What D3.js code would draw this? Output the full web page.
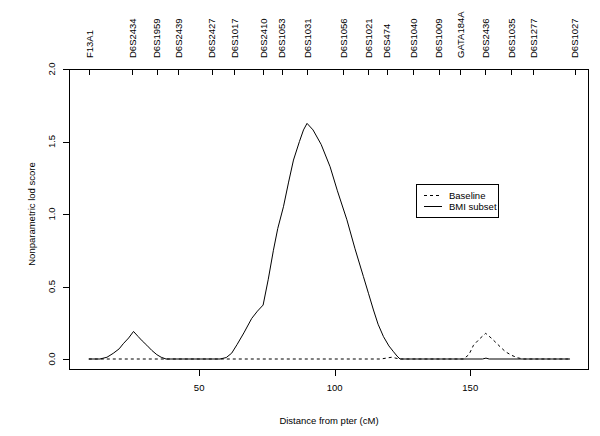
<!DOCTYPE html>
<html><head><meta charset="utf-8">
<script src="https://cdnjs.cloudflare.com/ajax/libs/d3/7.8.5/d3.min.js"></script>
<style>body{margin:0;background:#fff}svg{display:block}text{font-family:"Liberation Sans",Arial,sans-serif;fill:#000}</style>
</head><body><svg id="c" width="600" height="436"></svg>
<script>
const markerNames = ["F13A1","D6S2434","D6S1959","D6S2439","D6S2427","D6S1017","D6S2410","D6S1053","D6S1031","D6S1056","D6S1021","D6S474","D6S1040","D6S1009","GATA184A","D6S2436","D6S1035","D6S1277","D6S1027"];
const markerPos = [9.5,25.3,34.4,42.3,54.6,63.0,73.6,80.5,89.8,103.2,112.4,119.2,129.0,138.3,146.3,155.6,165.1,173.3,188.5];
const bmiX = [9.3,13.4,16,18.3,20.5,22.0,24,25.8,27.5,29,30.7,32.5,34.4,36,37.8,57.7,60,62,64,66.5,69.4,71.5,73.6,75.5,77.4,79,81.1,83,84.8,87,88.5,89.8,92,95,98.3,101,104.5,107.5,110.6,112.5,114.3,116,118,120,121.7,123,124.1,154.5,155.8,157,186.8];
const bmiY = [0,0,0.012,0.039,0.07,0.105,0.145,0.19,0.155,0.125,0.095,0.06,0.03,0.012,0,0,0.01,0.04,0.1,0.18,0.28,0.33,0.372,0.55,0.75,0.9,1.05,1.22,1.372,1.5,1.58,1.625,1.58,1.48,1.326,1.16,0.96,0.76,0.568,0.45,0.338,0.24,0.154,0.09,0.05,0.02,0,0,0.006,0,0];
const baseX = [9.3,117,119,121,123,124.5,147.5,149.5,151.2,153.5,155.7,158,161,163,165.3,167.5,169.6,186.8];
const baseY = [0,0,0.006,0.012,0.004,0,0,0.03,0.095,0.14,0.177,0.14,0.085,0.05,0.025,0.008,0,0];
const xTicks = [50,100,150];
const yTicks = [0,0.5,1,1.5,2];
const yTickLabels = ["0.0","0.5","1.0","1.5","2.0"];
const seriesNames = ["Baseline","BMI subset"];

const svg = d3.select("#c");
const L=69,R=589,T=69,B=370;
const x = d3.scaleLinear().domain([2,193.8]).range([L,R]);
const y = d3.scaleLinear().domain([0,2]).range([359,69]);
const fs = 9.5;

svg.append("rect").attr("x",L+0.5).attr("y",T+0.5).attr("width",R-L-1).attr("height",B-T-1)
  .attr("fill","none").attr("stroke","#000").attr("stroke-width",1);

const gx = svg.append("g");
xTicks.forEach(v=>{
  const px=Math.round(x(v))+0.5;
  gx.append("line").attr("x1",px).attr("x2",px).attr("y1",B).attr("y2",B+6).attr("stroke","#000");
  gx.append("text").attr("x",x(v)).attr("y",391).attr("text-anchor","middle").attr("font-size",fs).text(v);
});
svg.append("text").attr("x",(L+R)/2).attr("y",424).attr("text-anchor","middle").attr("font-size",fs).text("Distance from pter (cM)");

yTicks.forEach((v,i)=>{
  const py=Math.round(y(v))+0.5;
  svg.append("line").attr("x1",L-6).attr("x2",L).attr("y1",py).attr("y2",py).attr("stroke","#000");
  svg.append("text").attr("transform",`translate(55,${y(v)}) rotate(-90)`).attr("text-anchor","middle").attr("font-size",fs).text(yTickLabels[i]);
});
svg.append("text").attr("transform",`translate(35,${(y(0)+y(2))/2}) rotate(-90)`).attr("text-anchor","middle").attr("font-size",fs).text("Nonparametric lod score");

markerNames.forEach((n,i)=>{
  const px=Math.round(x(markerPos[i]))+0.5;
  svg.append("line").attr("x1",px).attr("x2",px).attr("y1",T).attr("y2",T+6).attr("stroke","#000");
  svg.append("text").attr("transform",`translate(${x(markerPos[i])+3.5},58) rotate(-90)`).attr("text-anchor","start").attr("font-size",fs).text(n);
});

const line = d3.line().x(d=>x(d[0])).y(d=>y(d[1]));
svg.append("path").datum(baseX.map((v,i)=>[v,baseY[i]])).attr("d",line).attr("fill","none").attr("stroke","#000").attr("stroke-width",1).attr("stroke-dasharray","3,3");
svg.append("path").datum(bmiX.map((v,i)=>[v,bmiY[i]])).attr("d",line).attr("fill","none").attr("stroke","#000").attr("stroke-width",1);

const lg = svg.append("g");
lg.append("rect").attr("x",416.5).attr("y",184.5).attr("width",82).attr("height",33).attr("fill","#fff").attr("stroke","#000");
const dashes=["3,3",null];
seriesNames.forEach((n,i)=>{
  const yy=195+i*11;
  const l=lg.append("line").attr("x1",424).attr("x2",442).attr("y1",yy+0.5).attr("y2",yy+0.5).attr("stroke","#000");
  if(dashes[i]) l.attr("stroke-dasharray",dashes[i]);
  lg.append("text").attr("x",449).attr("y",yy+3.5).attr("font-size",fs).text(n);
});
</script></body></html>
